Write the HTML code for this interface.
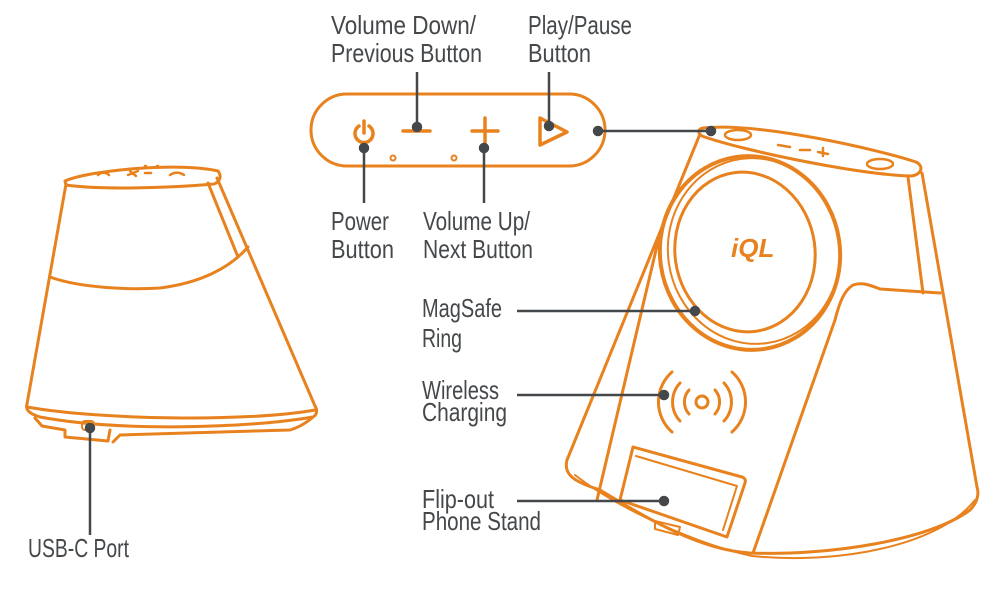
<!DOCTYPE html>
<html><head><meta charset="utf-8"><style>
html,body{margin:0;padding:0;background:#fff;}
svg{display:block;}
text{font-family:"Liberation Sans",sans-serif;font-size:26px;fill:#45484b;}
</style></head><body>
<svg width="1000" height="598" viewBox="0 0 1000 598" xmlns="http://www.w3.org/2000/svg">
<g fill="none" stroke="#e8821e" stroke-width="3" stroke-linejoin="round" stroke-linecap="round">
<!-- Left device -->
<path d="M65,181 C90,170 180,162 218,171 C222,176 220,182 214,184 C170,188 100,190 66,185 Z"/>
<path d="M66,184 L27,404"/>
<path d="M217,178 L315,406"/>
<path d="M208,183 L238,257"/>
<path d="M50,277 C80,288 130,290 160,288 C200,283 230,268 248,247"/>
<path d="M27,404 C25,410 30,414 40,417 C120,432 250,428 313,417 C318,414 317,409 315,406"/>
<path d="M27,407 C100,420 250,422 315,410"/>
<path d="M35,418 L42,426 L65,430 L65,437 L108,441 L110,430"/>
<path d="M113,442 L120,435 L290,430 C300,427 306,423 312,418"/>
<rect x="82" y="421" width="12" height="9" rx="3" stroke-width="2"/>
<path d="M98,175 c3,-3 8,-3 11,0 M128,175 l10,-4 M130,171 l6,5 M145,173 l6,0 M145,166 l1,0 M157,166 l1,0 M170,175 c4,-3 10,-3 14,0" stroke-width="2.5"/>
<!-- Button panel -->
<rect x="311" y="94" width="294" height="72" rx="36"/>
<path d="M359,126 A9,9 0 1 0 369,126 M364,121 L364,133" stroke-width="3.5"/>
<path d="M403,131 L430,131" stroke-width="3.5"/>
<path d="M472,131 L498,131 M485,118 L485,144" stroke-width="3.5"/>
<path d="M540,118 L567,132 L540,145 Z" stroke-width="3.5"/>
<circle cx="393" cy="158" r="2.5" stroke-width="2"/>
<circle cx="454" cy="158" r="2.5" stroke-width="2"/>
<!-- Right device -->
<path d="M703,128 C760,122 880,150 916,162 C924,166 922,174 912,176 C860,175 740,150 702,136 C697,133 698,129 703,128 Z"/>
<ellipse cx="738" cy="135" rx="13" ry="5" stroke-width="2.5"/>
<ellipse cx="880" cy="164" rx="13" ry="5" stroke-width="2.5"/>
<path d="M778,145 l12,2 M800,150 l10,0 M818,152 l10,2 M823,148 l0,8" stroke-width="2.5"/>
<path d="M700,134 L567,460 C563,475 575,482 600,490 C650,520 700,550 750,553 C830,556 930,540 970,510 C980,500 978,490 977,487 L922,173"/>
<path d="M908,177 L923,293"/>
<path d="M660,233 L597,500"/>
<path d="M940,293 L880,289 C870,285 862,282 853,285 C845,290 840,300 835,320 L753,553"/>
<path d="M575,475 C620,510 700,545 752,556 C840,565 940,545 975,500" stroke-width="2"/>
<ellipse cx="750" cy="253" rx="90" ry="97" transform="rotate(-8 750 253)" stroke-width="4"/>
<ellipse cx="754" cy="251" rx="86" ry="93" transform="rotate(-8 754 251)" stroke-width="2"/>
<ellipse cx="745" cy="252" rx="70" ry="80" transform="rotate(-8 745 252)"/>
<text x="731" y="257" font-size="16" font-weight="bold" style="fill:#e8821e;stroke:none;font-style:italic">iQL</text>
<circle cx="702" cy="402" r="6" stroke-width="3"/>
<path d="M689,390 A18,18 0 0 0 689,414 M715,390 A18,18 0 0 1 715,414"/>
<path d="M680,383 A28,28 0 0 0 680,421 M724,383 A28,28 0 0 1 724,421"/>
<path d="M672,372 A40,40 0 0 0 672,432 M732,372 A40,40 0 0 1 732,432"/>
<path d="M633,447 L742,477 C745,478 746,480 745,483 L727,537 L620,500 Z"/>
<path d="M636,456 L737,486 L723,530" stroke-width="2"/>
<path d="M655,521 L680,527 L678,535 L655,529 Z" stroke-width="2"/>
</g>
<!-- connectors -->
<g stroke="#45484b" stroke-width="2.5" fill="#45484b">
<line x1="417" y1="72" x2="417" y2="127"/><circle cx="417" cy="127" r="4"/>
<line x1="549" y1="72" x2="549" y2="126"/><circle cx="549" cy="126" r="4"/>
<line x1="364" y1="148" x2="364" y2="203"/><circle cx="364" cy="148" r="4"/>
<line x1="484" y1="148" x2="484" y2="203"/><circle cx="484" cy="148" r="4"/>
<line x1="598" y1="131" x2="712" y2="131"/><circle cx="598" cy="131" r="4"/><circle cx="711" cy="131" r="4"/>
<line x1="517" y1="311" x2="695" y2="311"/><circle cx="695" cy="311" r="4"/>
<line x1="517" y1="395" x2="664" y2="395"/><circle cx="664" cy="395" r="4"/>
<line x1="517" y1="501" x2="664" y2="501"/><circle cx="664" cy="501" r="4"/>
<line x1="90" y1="428" x2="90" y2="535"/><circle cx="90" cy="428" r="4"/>
</g>
<text x="331" y="34" textLength="145" lengthAdjust="spacingAndGlyphs">Volume Down/</text>
<text x="331" y="62" textLength="151" lengthAdjust="spacingAndGlyphs">Previous Button</text>
<text x="528" y="34" textLength="104" lengthAdjust="spacingAndGlyphs">Play/Pause</text>
<text x="528" y="62" textLength="63" lengthAdjust="spacingAndGlyphs">Button</text>
<text x="331" y="230" textLength="58" lengthAdjust="spacingAndGlyphs">Power</text>
<text x="331" y="258" textLength="63" lengthAdjust="spacingAndGlyphs">Button</text>
<text x="423" y="230" textLength="107" lengthAdjust="spacingAndGlyphs">Volume Up/</text>
<text x="423" y="258" textLength="110" lengthAdjust="spacingAndGlyphs">Next Button</text>
<text x="422" y="317" textLength="80" lengthAdjust="spacingAndGlyphs">MagSafe</text>
<text x="422" y="347" textLength="40" lengthAdjust="spacingAndGlyphs">Ring</text>
<text x="422" y="399" textLength="77" lengthAdjust="spacingAndGlyphs">Wireless</text>
<text x="422" y="421" textLength="85" lengthAdjust="spacingAndGlyphs">Charging</text>
<text x="422" y="508" textLength="72" lengthAdjust="spacingAndGlyphs">Flip-out</text>
<text x="422" y="530" textLength="119" lengthAdjust="spacingAndGlyphs">Phone Stand</text>
<text x="28" y="557" textLength="101" lengthAdjust="spacingAndGlyphs">USB-C Port</text>
</svg>
</body></html>
